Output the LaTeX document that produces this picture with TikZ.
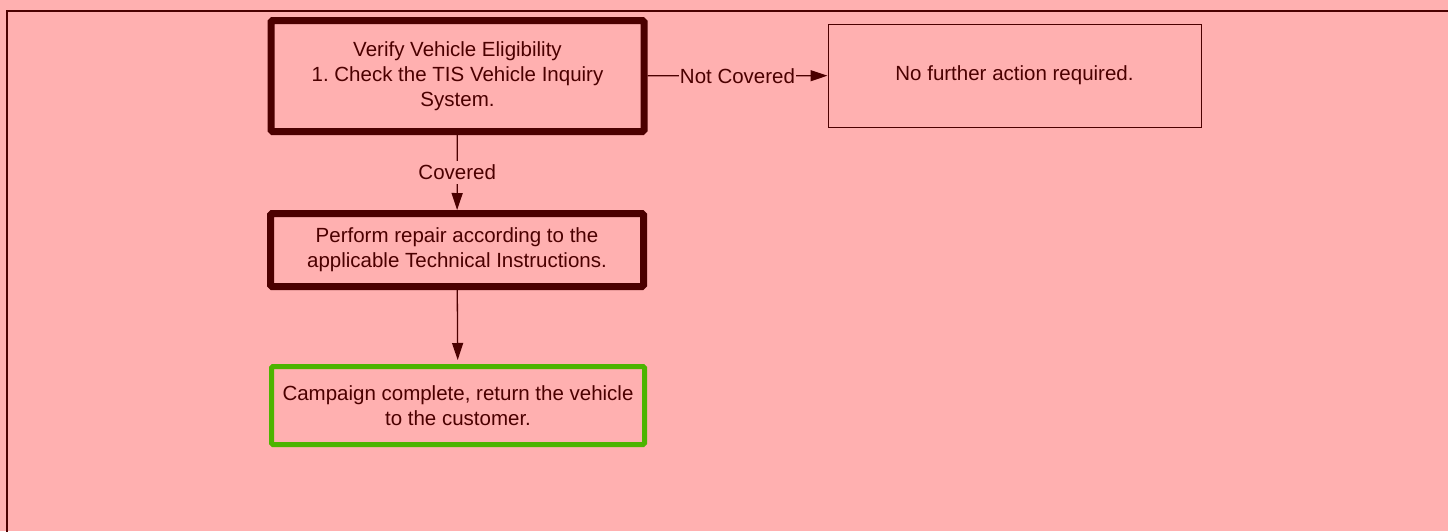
\documentclass[tikz,border=0pt]{standalone}
\usepackage{fontspec}
\setmainfont{Liberation Sans}
\usetikzlibrary{arrows.meta}
\definecolor{bgpink}{RGB}{255,176,176}
\definecolor{darkred}{RGB}{75,0,0}
\definecolor{donegreen}{RGB}{76,180,0}
\frenchspacing
\begin{document}
\begin{tikzpicture}[x=1pt,y=-1pt,
 every node/.style={font=\fontsize{20.5}{25}\selectfont,text=darkred},
 taskbox/.style={draw=darkred,line width=7pt,rounded corners=1.5pt,align=center,inner sep=0pt,minimum width=373pt},
 infobox/.style={draw=darkred,line width=1pt,align=center,inner sep=0pt,minimum width=373pt,minimum height=103pt},
 endbox/.style={draw=donegreen,line width=5pt,rounded corners=1.5pt,align=center,inner sep=0pt,minimum width=373pt,minimum height=78pt},
 flow/.style={draw=darkred,line width=1.3pt,-{Triangle[length=17pt,width=11pt]}},
 flowlabel/.style={fill=bgpink,inner xsep=1pt,inner ysep=4pt}]
 \useasboundingbox (0,0) rectangle (1448,531);
 \clip (0,0) rectangle (1448,531);
 % background and frame
 \fill[bgpink] (0,0) rectangle (1448,531);
 \draw[darkred,line width=2.8pt] (7,11) rectangle (1600,700);
 % steps
 \node[taskbox,minimum height=111pt] (verify) at (457.5,76)
  {Verify Vehicle Eligibility\\1. Check the TIS Vehicle Inquiry\\System.};
 \node[infobox] (noaction) at (1014.5,75.5) {No further action required.};
 \node[taskbox,minimum height=73pt] (repair) at (457,250)
  {Perform repair according to the\\applicable Technical Instructions.};
 \node[endbox] (complete) at (458,405.5)
  {Campaign complete, return the vehicle\\to the customer.};
 % connectors
 \draw[flow] (verify) -- node[flowlabel] {Not Covered} (noaction);
 \draw[flow] (verify) -- node[flowlabel] {Covered} (repair);
 \draw[flow,shorten >=4pt] (repair) -- (complete);
\end{tikzpicture}
\end{document}
